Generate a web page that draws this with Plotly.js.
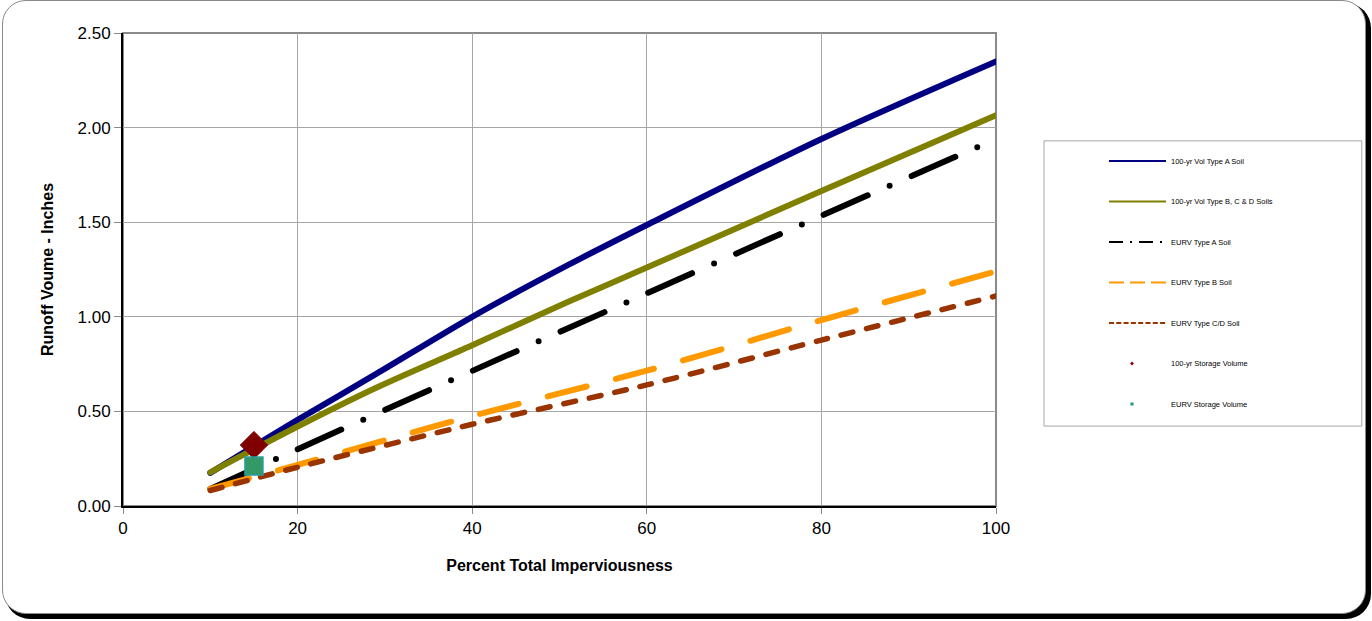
<!DOCTYPE html>
<html>
<head>
<meta charset="utf-8">
<script src="https://cdn.plot.ly/plotly-3.0.1.min.js"></script>
<style>
  html, body { margin: 0; padding: 0; background: #ffffff; }
  #frame { position: absolute; left: 2px; top: 0px; width: 1362px; height: 612px;
           border: 1px solid #8a8a8a; border-radius: 24px; background: #fff;
           box-shadow: 4px 4px 0 1px #000; }
  #chart { position: absolute; left: 0; top: 0; width: 1372px; height: 621px; }
  .scatterlayer .js-line { stroke-linecap: round; }
  .legend .js-line { stroke-linecap: butt; stroke-width: 2px !important; }
  .legend .groups:nth-of-type(3) .js-line { stroke-dasharray: 14px,7px,2px,7px !important; }
  .legend .groups:nth-of-type(4) .js-line { stroke-dasharray: 15px,6px !important; }
  .legend .groups:nth-of-type(5) .js-line { stroke-dasharray: 5px,2.3px !important; }
  .legend .scatterpts { transform: translate(28px, 0px) scale(0.22); }
</style>
</head>
<body>
<div id="frame"></div>
<div id="chart"></div>
<script>
// ---- data ----
const impervCurve   = [10, 20, 29, 40, 51, 60, 80, 100];
const vol100TypeA   = [0.175, 0.455, 0.698, 1.00, 1.274, 1.485, 1.94, 2.35];
const vol100TypeBCD = [0.178, 0.42, 0.625, 0.85, 1.08, 1.26, 1.665, 2.065];
const impervEURV    = [10, 20, 40, 60, 80, 100];
const eurvTypeA     = [0.09, 0.30, 0.714, 1.124, 1.534, 1.94];
const eurvTypeB     = [0.09, 0.217, 0.476, 0.715, 0.983, 1.24];
const eurvTypeCD    = [0.082, 0.205, 0.432, 0.64, 0.877, 1.11];
const storageX      = [15];
const storage100    = [0.322];
const storageEURV   = [0.211];
const seriesNames = ["100-yr Vol Type A Soil", "100-yr Vol Type B, C & D Soils",
  "EURV Type A Soil", "EURV Type B Soil", "EURV Type C/D Soil",
  "100-yr Storage Volume", "EURV Storage Volume"];
const xTicks = [0, 20, 40, 60, 80, 100];
const yTicks = [0, 0.5, 1.0, 1.5, 2.0, 2.5];

const FONT = "'Liberation Sans', Arial, sans-serif";

function lineTrace(x, y, name, color, width, dash, grp) {
  return { x: x, y: y, name: name, type: 'scatter', mode: 'lines',
           line: { color: color, width: width, dash: dash, shape: 'spline', smoothing: 0.8 },
           legendgroup: grp };
}

const traces = [
  lineTrace(impervCurve, vol100TypeA,   seriesNames[0], '#000080', 6, 'solid', 'g1'),
  lineTrace(impervCurve, vol100TypeBCD, seriesNames[1], '#808000', 6, 'solid', 'g2'),
  lineTrace(impervEURV,  eurvTypeA,     seriesNames[2], '#000000', 6, '48px,24px,0px,24px', 'g3'),
  lineTrace(impervEURV,  eurvTypeB,     seriesNames[3], '#FF9900', 6, '40px,30px', 'g4'),
  lineTrace(impervEURV,  eurvTypeCD,    seriesNames[4], '#993300', 5.5, '12px,14px', 'g5'),
  { x: storageX, y: storage100, name: seriesNames[5], type: 'scatter', mode: 'markers',
    marker: { symbol: 'diamond', size: 21, color: '#800000', line: { color: '#800000', width: 1 } },
    legendgroup: 'g6' },
  { x: storageX, y: storageEURV, name: seriesNames[6], type: 'scatter', mode: 'markers',
    marker: { symbol: 'square', size: 18, color: '#339966', line: { color: '#2A9D9D', width: 1.5 } },
    legendgroup: 'g7' }
];

const layout = {
  width: 1372, height: 621,
  paper_bgcolor: 'rgba(0,0,0,0)', plot_bgcolor: '#ffffff',
  margin: { l: 123, r: 376, t: 33, b: 115 },
  font: { family: FONT, color: '#000', size: 17 },
  showlegend: true,
  legend: {
    x: 1.1237, y: 0.76, xanchor: 'left', yanchor: 'top',
    bgcolor: 'rgba(0,0,0,0)', borderwidth: 0,
    font: { family: FONT, size: 7.5, color: '#000' },
    tracegroupgap: 21.5, itemwidth: 57, itemsizing: 'constant'
  },
  xaxis: {
    range: [0, 100], tickvals: xTicks, ticktext: xTicks.map(String),
    showgrid: true, gridcolor: '#a6a6a6', gridwidth: 1,
    showline: true, linecolor: '#000', linewidth: 2,
    ticks: 'outside', ticklen: 6, tickcolor: '#8a8a8a', tickwidth: 1,
    zeroline: false, tickfont: { size: 17, family: FONT },
    title: { text: '<b>Percent Total Imperviousness</b>', font: { size: 16, family: FONT }, standoff: 22 }
  },
  yaxis: {
    range: [0, 2.5], tickvals: yTicks, ticktext: yTicks.map(v => v.toFixed(2)),
    showgrid: true, gridcolor: '#a6a6a6', gridwidth: 1,
    showline: true, linecolor: '#000', linewidth: 2,
    ticks: 'outside', ticklen: 7, tickcolor: '#8a8a8a', tickwidth: 1,
    zeroline: false, tickfont: { size: 17, family: FONT },
    title: { text: '<b>Runoff Voume - Inches</b>', font: { size: 16, family: FONT }, standoff: 20 }
  },
  shapes: [
    { type: 'rect', xref: 'paper', yref: 'paper', x0: 0, x1: 1, y0: 0, y1: 1,
      line: { color: '#8a8a8a', width: 2 }, layer: 'below' },
    { type: 'rect', xref: 'paper', yref: 'paper', x0: 1.055, x1: 1.419, y0: 0.169, y1: 0.772,
      line: { color: '#a6a6a6', width: 1 }, fillcolor: 'rgba(0,0,0,0)', layer: 'below' }
  ]
};

Plotly.newPlot('chart', traces, layout, { displayModeBar: false, staticPlot: true });
</script>
</body>
</html>
